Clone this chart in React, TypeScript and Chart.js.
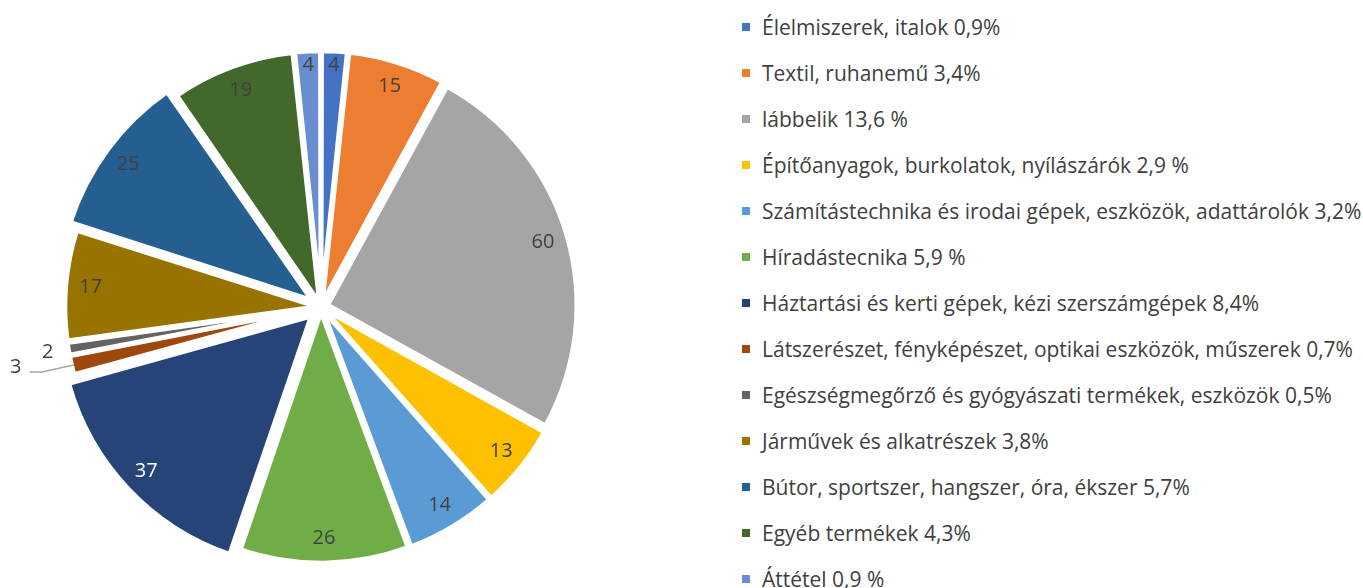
import React, { useEffect, useRef } from "react";
import { Chart, registerables } from "chart.js";

Chart.register(...registerables);

const categories = [
  "Élelmiszerek, italok 0,9%",
  "Textil, ruhanemű 3,4%",
  "lábbelik 13,6 %",
  "Építőanyagok, burkolatok, nyílászárók 2,9 %",
  "Számítástechnika és irodai gépek, eszközök, adattárolók 3,2%",
  "Híradástecnika 5,9 %",
  "Háztartási és kerti gépek, kézi szerszámgépek 8,4%",
  "Látszerészet, fényképészet, optikai eszközök, műszerek 0,7%",
  "Egészségmegőrző és gyógyászati termékek, eszközök 0,5%",
  "Járművek és alkatrészek 3,8%",
  "Bútor, sportszer, hangszer, óra, ékszer 5,7%",
  "Egyéb termékek 4,3%",
  "Áttétel 0,9 %",
];

const values = [4, 15, 60, 13, 14, 26, 37, 3, 2, 17, 25, 19, 4];

const colors = [
  "#4472C4",
  "#ED7D31",
  "#A5A5A5",
  "#FFC000",
  "#5B9BD5",
  "#70AD47",
  "#264478",
  "#9E480E",
  "#636363",
  "#997300",
  "#255E91",
  "#43682B",
  "#698ED0",
];

// per-slice explosion (px) — style only
const explode = [7, 7, 7, 7, 7, 7, 16, 7, 7, 7, 16, 7, 7];

const TEXT = "#404040";
const FONT = "'Open Sans', Lato, sans-serif";
const RADIUS = 249;

const total = values.reduce((a, b) => a + b, 0);

function lum(hex: string) {
  const n = parseInt(hex.slice(1), 16);
  return 0.299 * ((n >> 16) & 255) + 0.587 * ((n >> 8) & 255) + 0.114 * (n & 255);
}

const labelPlugin = {
  id: "sliceLabels",
  afterDatasetsDraw(chart: any) {
    const ctx = chart.ctx as CanvasRenderingContext2D;
    const meta = chart.getDatasetMeta(0);
    const data = chart.data.datasets[0].data as number[];
    ctx.save();
    ctx.font = `20px ${FONT}`;
    ctx.textAlign = "center";
    ctx.textBaseline = "middle";
    const outside: any[] = [];
    meta.data.forEach((arc: any, i: number) => {
      const p = arc.getProps(["x", "y", "startAngle", "endAngle", "outerRadius"], true);
      const mid = (p.startAngle + p.endAngle) / 2;
      const span = p.endAngle - p.startAngle;
      if (span < 0.09) {
        outside.push({ i, p, mid });
        return;
      }
      const frac = span < 0.15 ? 0.945 : 0.9;
      const r = p.outerRadius * frac + explode[i];
      ctx.fillStyle = lum(colors[i]) < 75 ? "#FFFFFF" : TEXT;
      ctx.fillText(String(data[i]), p.x + Math.cos(mid) * r, p.y + Math.sin(mid) * r);
    });
    ctx.fillStyle = TEXT;
    let prev: { x: number; y: number } | null = null;
    for (let k = outside.length - 1; k >= 0; k--) {
      const { i, p, mid } = outside[k];
      const edgeR = p.outerRadius + explode[i] - 2;
      const ex = p.x + Math.cos(mid) * edgeR;
      const ey = p.y + Math.sin(mid) * edgeR;
      const r = edgeR + 23;
      let lx = p.x + Math.cos(mid) * r;
      let ly = p.y + Math.sin(mid) * r;
      if (prev && Math.hypot(prev.x - lx, prev.y - ly) < 30) {
        const left = Math.cos(mid) < 0;
        lx = left ? ex - 58 : ex + 58;
        ly = ey + 2;
        ctx.strokeStyle = "#A6A6A6";
        ctx.lineWidth = 1.5;
        ctx.beginPath();
        const sx = left ? lx + 14 : lx - 14;
        ctx.moveTo(sx, ly + 5);
        ctx.lineTo(left ? sx + 12 : sx - 12, ly + 5);
        ctx.lineTo(ex, ey);
        ctx.stroke();
      }
      ctx.fillText(String(data[i]), lx, ly);
      prev = { x: lx, y: ly };
    }
    ctx.restore();
  },
};

export default function App() {
  const ref = useRef<HTMLCanvasElement | null>(null);

  useEffect(() => {
    if (!ref.current) return;
    const chart = new Chart(ref.current, {
      type: "pie",
      data: {
        labels: categories,
        datasets: [
          {
            data: values,
            backgroundColor: colors,
            borderColor: "#FFFFFF",
            borderWidth: 4.5,
            hoverOffset: 0,
            radius: RADIUS,
            offset: (c: any) => {
              const circ = ((c.parsed || 0) / total) * Math.PI * 2;
              const fix = 1 - Math.sin(Math.min(Math.PI, circ));
              return (4 * explode[c.dataIndex]) / (1 + fix);
            },
          } as any,
        ],
      },
      options: {
        responsive: false,
        animation: false,
        layout: { padding: { top: 26, left: 0, right: 0, bottom: 0 } },
        plugins: {
          legend: { display: false },
          tooltip: { enabled: false },
        },
      },
      plugins: [labelPlugin],
    });
    return () => chart.destroy();
  }, []);

  return (
    <div
      style={{
        position: "fixed",
        left: 0,
        top: 0,
        width: 1363,
        height: 588,
        background: "#FFFFFF",
        overflow: "hidden",
      }}
    >
      <canvas
        ref={ref}
        width={642}
        height={588}
        style={{ position: "absolute", left: 0, top: 0, width: 642, height: 588 }}
      />
      {categories.map((c, i) => (
        <div
          key={c}
          style={{
            position: "absolute",
            left: 742,
            top: 27 + 46 * i - 14,
            height: 28,
            display: "flex",
            alignItems: "center",
            whiteSpace: "nowrap",
            fontFamily: FONT,
            fontSize: 21,
            color: TEXT,
          }}
        >
          <span
            style={{
              display: "inline-block",
              width: 8,
              height: 8,
              background: colors[i],
              marginRight: 12,
            }}
          />
          <span>{c}</span>
        </div>
      ))}
    </div>
  );
}
